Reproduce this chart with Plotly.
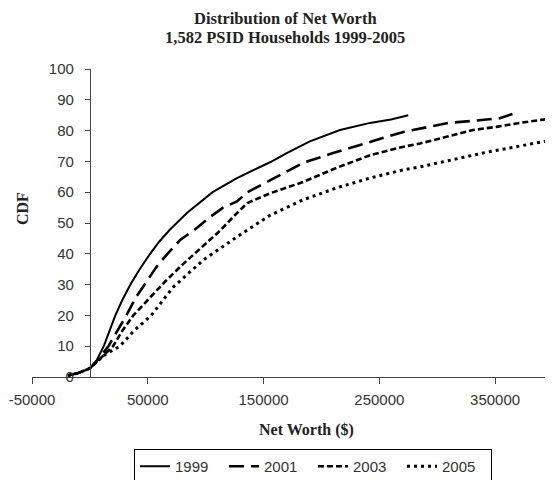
import plotly.graph_objects as go

# ---- data ----
years = ["1999", "2001", "2003", "2005"]

x_1999 = [-19000, -10000, 0, 6000, 12000, 22000, 28000, 35000, 43000, 52000, 60000, 69000,
          84000, 106000, 127000, 156000, 170000, 190000, 216000, 242000, 260000, 275000]
y_1999 = [0.5, 1.3, 2.8, 5.5, 10, 20, 25, 30, 35, 40, 44, 47.8,
          53.3, 60, 64.6, 69.8, 72.7, 76.5, 80.2, 82.5, 83.6, 85]

x_2001 = [-19000, -10000, 0, 6000, 16000, 24000, 31500, 40000, 47000, 58000, 67000, 78000,
          91000, 104000, 115000, 127000, 136000, 156000, 184000, 210000, 227000, 248000,
          270000, 290000, 310000, 332000, 354000, 365000]
y_2001 = [0.5, 1.3, 2.8, 5.2, 10, 15, 20, 26, 30, 36, 40, 44.5,
          48, 52, 55, 57, 60, 64, 69.5, 72.7, 74.7, 77,
          79.5, 81, 82.5, 83.2, 84, 85.4]

x_2003 = [-19000, -10000, 0, 6000, 20000, 28000, 37500, 50000, 65000, 80000, 95000, 111000,
          127000, 136000, 156000, 184000, 213000, 242000, 270000, 285000, 308000, 331000,
          351000, 371000, 400000]
y_2003 = [0.5, 1.3, 2.8, 5, 10, 15, 20, 25, 31, 36.5, 41.5, 47,
          53.2, 56.5, 59.7, 63.3, 67.9, 72, 74.7, 75.8, 78, 80.2,
          81.2, 82.5, 84]

x_2005 = [-19000, -10000, 0, 6000, 14000, 26000, 38000, 53000, 72000, 98000, 127000, 156000,
          184000, 213000, 242000, 270000, 285000, 343000, 400000]
y_2005 = [0.5, 1.3, 2.8, 5, 7.5, 10, 15, 20, 29.2, 38, 45.5, 52.6,
          57.5, 61.4, 64.6, 67.2, 68.2, 73, 77]

x_ticks = [-50000, 50000, 150000, 250000, 350000]
y_ticks = [0, 10, 20, 30, 40, 50, 60, 70, 80, 90, 100]

title_lines = ["Distribution of Net Worth", "1,582 PSID Households 1999-2005"]
x_title = "Net Worth ($)"
y_title = "CDF"

# ---- figure ----
# the page body has an 8px margin, so the figure is 8px smaller and
# every page-pixel target below is shifted by OFF
OFF = 8
W, H = 553 - OFF, 480 - OFF
L, R = 32 - OFF, 0
T = 69 - OFF
B = H - (377 - OFF)
x_range = [-50000, 400000]
plot_w = W - L - R
plot_h = H - T - B

series = [(x_1999, y_1999), (x_2001, y_2001), (x_2003, y_2003), (x_2005, y_2005)]
styles = [
    dict(dash="solid", width=2),
    dict(dash="15px,7px", width=2.6),
    dict(dash="6px,3px", width=2.6),
    dict(dash="3px,4px", width=3),
]

fig = go.Figure()
for name, (xs, ys), st in zip(years, series, styles):
    fig.add_trace(go.Scatter(
        x=xs, y=ys, mode="lines", name=name,
        line=dict(color="black", width=st["width"], dash=st["dash"]),
    ))

axis_font = dict(family="Liberation Sans, Arial, sans-serif", size=15, color="#333333")
serif = "Liberation Serif, Times New Roman, serif"

y_pos = (0 - x_range[0]) / (x_range[1] - x_range[0])


def px_x(px):
    return (px - OFF - L) / plot_w


def px_y(py):
    return (H - B - (py - OFF)) / plot_h


fig.update_layout(
    width=W, height=H,
    margin=dict(l=L, r=R, t=T, b=B, autoexpand=False),
    paper_bgcolor="white", plot_bgcolor="white",
    showlegend=True,
    xaxis=dict(
        range=x_range, tickmode="array", tickvals=x_ticks,
        ticktext=[str(v) for v in x_ticks],
        showgrid=False, zeroline=False, automargin=False,
        showline=True, linecolor="#444444", linewidth=1,
        ticks="outside", ticklen=6, tickcolor="#444444",
        tickfont=axis_font, ticklabelstandoff=3,
        ticklabeloverflow="allow",
    ),
    yaxis=dict(
        range=[0, 100], tickmode="array", tickvals=y_ticks,
        showgrid=False, zeroline=False, automargin=False,
        anchor="free", position=y_pos,
        showline=True, linecolor="#444444", linewidth=1,
        ticks="outside", ticklen=5, tickcolor="#444444",
        tickfont=axis_font, ticklabelstandoff=8,
    ),
    legend=dict(
        orientation="h",
        xref="container", yref="container",
        x=(313 - OFF) / W, xanchor="center",
        y=1 - (449 - OFF) / H, yanchor="top",
        bordercolor="black", borderwidth=1,
        font=dict(family=axis_font["family"], size=15, color="#333333"),
        entrywidth=44, entrywidthmode="pixels",
    ),
    annotations=[
        dict(text="<b>" + title_lines[0] + "</b>",
             xref="paper", yref="paper", x=px_x(285), y=px_y(18.5),
             xanchor="center", yanchor="middle", showarrow=False,
             font=dict(family=serif, size=16.5, color="#222222")),
        dict(text="<b>" + title_lines[1] + "</b>",
             xref="paper", yref="paper", x=px_x(285), y=px_y(37.5),
             xanchor="center", yanchor="middle", showarrow=False,
             font=dict(family=serif, size=16.5, color="#222222")),
        dict(text="<b>" + x_title + "</b>", xref="paper", yref="paper",
             x=px_x(306), y=px_y(430),
             xanchor="center", yanchor="middle", showarrow=False,
             font=dict(family=serif, size=16, color="#222222")),
        dict(text="<b>" + y_title + "</b>", xref="paper", yref="paper",
             x=px_x(22), y=px_y(209),
             xanchor="center", yanchor="middle", showarrow=False,
             textangle=-90, font=dict(family=serif, size=16, color="#222222")),
    ],
)

fig.write_html("out.html")
